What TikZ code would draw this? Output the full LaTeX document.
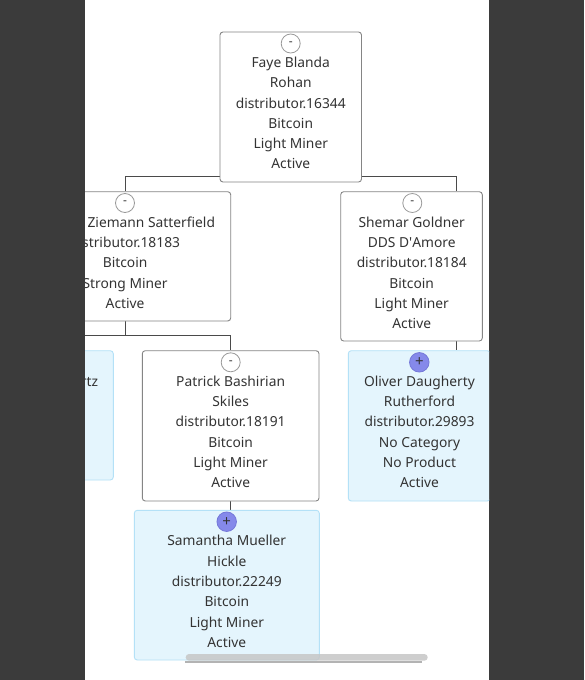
\documentclass[tikz,border=0pt]{standalone}
\usepackage{fontspec}
\setmainfont{Noto Sans}
\usetikzlibrary{calc}
\definecolor{panel}{HTML}{3B3B3B}
\definecolor{boxline}{HTML}{858585}
\definecolor{connc}{HTML}{4A4A4A}
\definecolor{leaffill}{HTML}{E4F5FD}
\definecolor{leafline}{HTML}{B4E1F7}
\definecolor{txtc}{HTML}{333333}
\definecolor{btnline}{HTML}{9A9A9A}
\definecolor{plusfill}{HTML}{8589EA}
\definecolor{plusline}{HTML}{7478D8}
\definecolor{sbbar}{HTML}{C6C6C6}
\definecolor{sbshadow}{HTML}{B3B3B3}
\pgfdeclarelayer{bg}
\pgfdeclarelayer{lines}
\pgfsetlayers{bg,lines,main}
\tikzset{
  box/.style={draw=boxline, fill=white, rounded corners=3pt, line width=0.9pt, inner sep=0pt},
  leaf/.style={draw=leafline, fill=leaffill, rounded corners=3pt, line width=0.9pt, inner sep=0pt},
  conn/.style={draw=connc, line width=1.2pt},
  txt/.style={font=\fontsize{13.8}{16}\selectfont, text=txtc, inner sep=0pt, text height=9.5pt, text depth=3pt},
  minusbtn/.style={circle, draw=btnline, fill=white, line width=0.8pt, minimum size=19pt, inner sep=0pt, font=\fontsize{12}{12}\selectfont, text=txtc},
  plusbtn/.style={circle, draw=plusline, fill=plusfill, line width=0.8pt, minimum size=19.5pt, inner sep=0pt, font=\fontsize{15}{15}\selectfont, text=txtc},
}
\begin{document}
\begin{tikzpicture}[x=1pt,y=-1pt]
\useasboundingbox (0,0) rectangle (584,680);
\begin{pgfonlayer}{bg}
  \fill[panel] (0,0) rectangle (584,680);
  \fill[white] (85,0) rectangle (489,680);
\end{pgfonlayer}
\begin{scope}
\clip (85,0) rectangle (489,680);
% boxes
\node[box, minimum width=141.5pt, minimum height=150pt] (faye) at (290.75,107) {};
\node[box, minimum width=211.2pt, minimum height=129.3pt] (ziemann) at (125.1,256.35) {};
\node[box, minimum width=141.6pt, minimum height=149.3pt] (shemar) at (411.5,266.35) {};
\node[leaf, minimum width=177pt, minimum height=129.3pt] (leftleaf) at (24.8,415.35) {};
\node[box, minimum width=176.7pt, minimum height=150.3pt] (patrick) at (230.65,425.85) {};
\node[leaf, minimum width=185pt, minimum height=149.7pt] (samantha) at (226.8,585.15) {};
\node[leaf, minimum width=142pt, minimum height=150.3pt] (oliver) at (419.3,425.85) {};
% buttons
\node[minusbtn] (fayebtn) at (290.7,43.5) {-};
\node[minusbtn] (ziemannbtn) at (125,203) {-};
\node[minusbtn] (shemarbtn) at (412.3,203) {-};
\node[minusbtn] (patrickbtn) at (230.7,362.3) {-};
\node[plusbtn] (samanthabtn) at (226.7,521.7) {+};
\node[plusbtn] (oliverbtn) at (419.3,362.3) {+};
% texts
\foreach \t [count=\i] in {Faye Blanda, Rohan, distributor.16344, Bitcoin, Light Miner, Active}
  \node[txt, name=faye-\i] at ($(faye.north)+(0,{32.6+20.3*(\i-1)})$) {\t};
\node[txt, anchor=east, name=ziemann-1] at (215.2,224.3) {Ziemann Satterfield};
\foreach \t [count=\i from 2] in {distributor.18183, Bitcoin, Strong Miner, Active}
  \node[txt, name=ziemann-\i] at ($(ziemann.north)+(0,{32.6+20.3*(\i-1)})$) {\t};
\foreach \t [count=\i] in {Shemar Goldner, DDS D\textquotesingle Amore, distributor.18184, Bitcoin, Light Miner, Active}
  \node[txt, name=shemar-\i] at ($(shemar.north)+(0.2,{32.6+20.3*(\i-1)})$) {\t};
\node[txt, anchor=east, name=leftleaf-1] at (98.3,383.3) {rtz};
\foreach \t [count=\i] in {Patrick Bashirian, Skiles, distributor.18191, Bitcoin, Light Miner, Active}
  \node[txt, name=patrick-\i] at ($(patrick.north)+(0,{32.6+20.3*(\i-1)})$) {\t};
\foreach \t [count=\i] in {Samantha Mueller, Hickle, distributor.22249, Bitcoin, Light Miner, Active}
  \node[txt, name=samantha-\i] at ($(samantha.north)+(0,{32.8+20.3*(\i-1)})$) {\t};
\foreach \t [count=\i] in {Oliver Daugherty, Rutherford, distributor.29893, No Category, No Product, Active}
  \node[txt, name=oliver-\i] at ($(oliver.north)+(0.2,{32.6+20.3*(\i-1)})$) {\t};
\end{scope}
% connectors
\begin{pgfonlayer}{lines}
  \clip (85,0) rectangle (489,680);
  \coordinate (shemarin) at ($(shemar.north)+(45.2,0)$);
  \coordinate (shemarout) at ($(shemar.south)+(45.2,0)$);
  \draw[conn] (ziemann.north) |- ($(faye.south)+(0,-6)$) -| (shemarin);
  \draw[conn] (ziemann.south) -- ($(ziemann.south |- patrick.north)+(0,-14.7)$);
  \draw[conn] (leftleaf.north) |- ($(patrick.north)+(0,-14.7)$) -- (patrick.north);
  \draw[conn] (shemarout) -- (shemarout |- oliver.north);
  \draw[conn] (patrick.south) -- (patrick.south |- samantha.north);
\end{pgfonlayer}
% scrollbar
\fill[sbshadow] (185,660.7) rectangle (422.3,663.3);
\fill[sbbar, opacity=0.85, rounded corners=3.3pt] (185.7,654) rectangle (427.7,660.7);
\end{tikzpicture}
\end{document}
